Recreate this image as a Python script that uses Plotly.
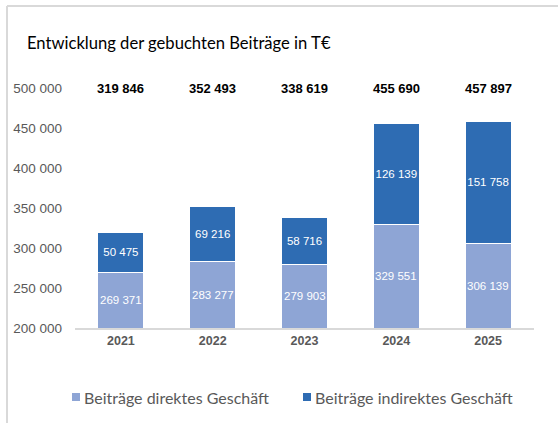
import plotly.graph_objects as go

jahre = ["2021", "2022", "2023", "2024", "2025"]
direkt = [269371, 283277, 279903, 329551, 306139]
indirekt = [50475, 69216, 58716, 126139, 151758]
gesamt = [319846, 352493, 338619, 455690, 457897]
y_ticks = [200000, 250000, 300000, 350000, 400000, 450000, 500000]
serien = ["Beiträge direktes Geschäft", "Beiträge indirektes Geschäft"]
farben = ["#8EA5D5", "#2E6CB3"]

pos = list(range(len(jahre)))
y_min, y_max = 200000, 500000


def fmt(v):
    # Tausendertrennzeichen als Leerzeichen
    return f"{v:,}".replace(",", " ")


fig = go.Figure()
fig.add_trace(go.Bar(
    x=pos, y=direkt, name=serien[0], width=0.5,
    marker=dict(color=farben[0], line=dict(color="white", width=1)),
))
fig.add_trace(go.Bar(
    x=pos, y=indirekt, name=serien[1], width=0.5,
    marker=dict(color=farben[1], line=dict(color="white", width=1)),
    text=[fmt(v) for v in indirekt], textposition="inside", insidetextanchor="middle",
    textangle=0, constraintext="none",
    textfont=dict(color="white", size=11.5, family="Liberation Sans"),
))

# Beschriftung der unteren Balken: Mitte des sichtbaren Teils
for p, v in zip(pos, direkt):
    fig.add_annotation(x=p, y=(y_min + v) / 2, text=fmt(v), showarrow=False,
                       font=dict(size=11.5, color="white", family="Liberation Sans"))

# Summen oben auf Höhe 500 000
for p, g in zip(pos, gesamt):
    fig.add_annotation(x=p, y=y_max, text=f"<b>{fmt(g)}</b>", showarrow=False,
                       yanchor="middle", font=dict(size=13, color="black", family="Liberation Sans"))


# Pixel -> Papierkoordinaten (Plotbereich x 75..534, y 88..328)
def px_x(p):
    return (p - 75) / 459


def px_y(p):
    return (328 - p) / 240


# Rahmen links und oben
fig.add_shape(type="line", xref="paper", yref="paper", x0=px_x(7), x1=px_x(560), y0=px_y(6), y1=px_y(6),
              line=dict(color="#D9D9D9", width=2))
fig.add_shape(type="line", xref="paper", yref="paper", x0=px_x(7), x1=px_x(7), y0=px_y(6), y1=px_y(425),
              line=dict(color="#D9D9D9", width=2))

# Legende von Hand
for name, farbe, mx in zip(serien, farben, [72, 303]):
    fig.add_shape(type="rect", xref="paper", yref="paper", x0=px_x(mx), x1=px_x(mx + 8),
                  y0=px_y(401), y1=px_y(393), fillcolor=farbe, line=dict(width=0))
    fig.add_annotation(x=px_x(mx + 10), y=px_y(397), xref="paper", yref="paper", text=name,
                       showarrow=False, xanchor="left", yanchor="middle",
                       font=dict(size=16, color="#595959", family="Lato"))

fig.add_annotation(x=px_x(25), y=px_y(43), xref="paper", yref="paper",
                   text="Entwicklung der gebuchten Beiträge in T€", showarrow=False,
                   xanchor="left", yanchor="middle", font=dict(size=16.6, color="black", family="Lato"))

fig.update_layout(
    width=558, height=423,
    margin=dict(l=75, r=24, t=88, b=95),
    barmode="stack",
    plot_bgcolor="white", paper_bgcolor="white",
    showlegend=False,
    yaxis=dict(range=[y_min, y_max], tickvals=y_ticks, ticktext=[fmt(v) for v in y_ticks],
               showgrid=False, zeroline=False, showline=False, ticks="", ticklabelstandoff=12,
               tickfont=dict(size=13.5, color="#595959", family="Liberation Sans")),
    xaxis=dict(type="linear", range=[-0.5, 4.5], tickvals=pos,
               ticktext=[f"<b>{j}</b>" for j in jahre],
               showgrid=False, zeroline=False, showline=True, linecolor="#D9D9D9", linewidth=2, ticks="",
               tickfont=dict(size=12.5, color="#595959", family="Liberation Sans")),
)
fig.update_traces(cliponaxis=False)

fig.write_html("out.html", config={"displayModeBar": False},
               post_script="document.body.style.margin='0';")
